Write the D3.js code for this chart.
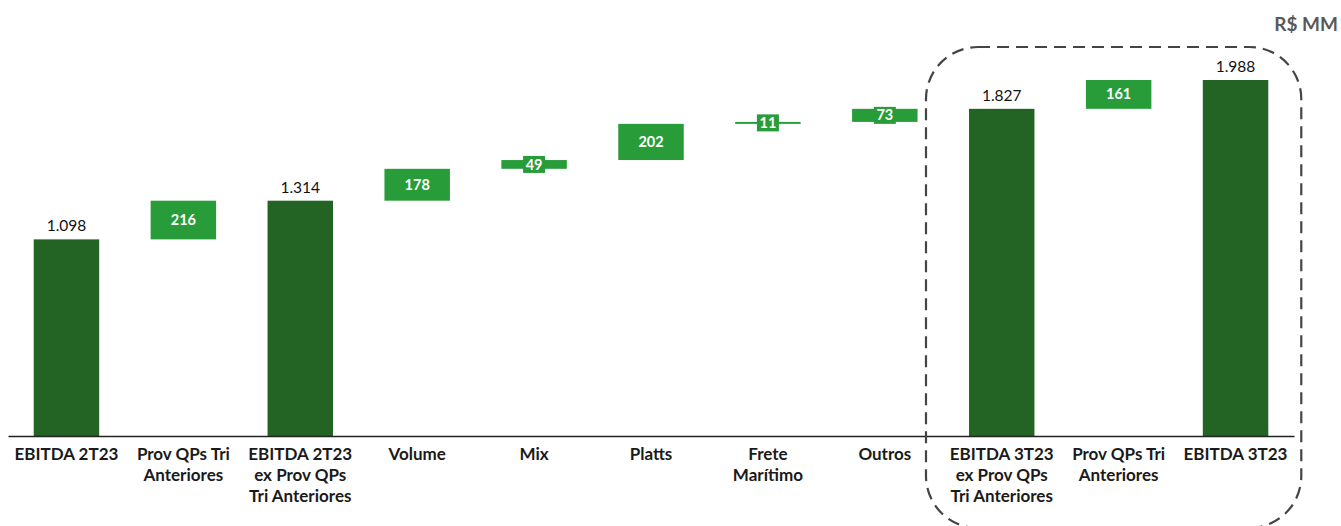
<!DOCTYPE html>
<html>
<head>
<meta charset="utf-8">
<script src="https://cdn.jsdelivr.net/npm/d3@7"></script>
<style>
  body { margin: 0; background: #fff; }
  svg { display: block; font-family: Lato, "Open Sans", sans-serif; }
</style>
</head>
<body>
<svg id="chart" width="1341" height="526"></svg>
<script>
// Bridge of EBITDA, R$ MM
const categories = [
  ["EBITDA 2T23"],
  ["Prov QPs Tri", "Anteriores"],
  ["EBITDA 2T23", "ex Prov QPs", "Tri Anteriores"],
  ["Volume"],
  ["Mix"],
  ["Platts"],
  ["Frete", "Marítimo"],
  ["Outros"],
  ["EBITDA 3T23", "ex Prov QPs", "Tri Anteriores"],
  ["Prov QPs Tri", "Anteriores"],
  ["EBITDA 3T23"]
];
const values = [1098, 216, 1314, 178, 49, 202, 11, 73, 1827, 161, 1988];
const kinds = ["total", "delta", "total", "delta", "delta", "delta", "delta", "delta", "total", "delta", "total"];
const valueLabels = ["1.098", "216", "1.314", "178", "49", "202", "11", "73", "1.827", "161", "1.988"];
const unitLabel = "R$ MM";

const darkGreen = "#236323";
const lightGreen = "#289c38";

const svg = d3.select("#chart");
const baseY = 436;

// Running start/end of each step
let run = 0;
const steps = values.map((v, i) => {
  let s, e;
  if (kinds[i] === "total") { s = 0; e = v; run = v; }
  else { s = run; e = run + v; run = e; }
  return { i, s, e, v, kind: kinds[i], label: valueLabels[i], cat: categories[i] };
});

const x = d3.scaleBand()
  .domain(d3.range(values.length))
  .range([8, 1294])
  .paddingInner(0.44)
  .paddingOuter(0.22);

const y = d3.scaleLinear().domain([0, 1988]).range([baseY, 80]);

// Bars
svg.append("g").selectAll("rect")
  .data(steps)
  .join("rect")
  .attr("x", d => x(d.i))
  .attr("width", x.bandwidth())
  .attr("y", d => y(Math.max(d.s, d.e)))
  .attr("height", d => Math.max(1.5, Math.abs(y(d.s) - y(d.e))))
  .attr("fill", d => d.kind === "total" ? darkGreen : lightGreen);

// Totals: value above the bar
svg.append("g").selectAll("text")
  .data(steps.filter(d => d.kind === "total"))
  .join("text")
  .attr("x", d => x(d.i) + x.bandwidth() / 2)
  .attr("y", d => y(d.e) - 8)
  .attr("text-anchor", "middle")
  .attr("font-size", 15.5)
  .attr("fill", "#111")
  .text(d => d.label);

// Deltas: value centred in the bar, on a small badge of the same colour
const deltaG = svg.append("g").selectAll("g")
  .data(steps.filter(d => d.kind === "delta"))
  .join("g")
  .attr("transform", d => `translate(${x(d.i) + x.bandwidth() / 2},${(y(d.s) + y(d.e)) / 2})`);
deltaG.append("rect")
  .attr("x", d => -(d.label.length * 8 + 6) / 2)
  .attr("width", d => d.label.length * 8 + 6)
  .attr("y", -8.5)
  .attr("height", 17)
  .attr("fill", lightGreen);
deltaG.append("text")
  .attr("text-anchor", "middle")
  .attr("dy", "0.35em")
  .attr("font-size", 14.5)
  .attr("font-weight", "bold")
  .attr("fill", "#fff")
  .text(d => d.label);

// Baseline axis
const axis = d3.axisBottom(x).tickSize(0).tickFormat("");
const axisG = svg.append("g").attr("transform", `translate(0,${baseY})`).call(axis);
axisG.select(".domain").attr("stroke", "#222").attr("stroke-width", 1.3);

// Category labels
svg.append("g").selectAll("text")
  .data(steps)
  .join("text")
  .attr("x", d => x(d.i) + x.bandwidth() / 2)
  .attr("y", 460)
  .attr("text-anchor", "middle")
  .attr("font-size", 17)
  .attr("font-weight", "bold")
  .attr("fill", "#1a1a1a")
  .selectAll("tspan")
  .data(d => d.cat)
  .join("tspan")
  .attr("x", function() { return this.parentNode.getAttribute("x"); })
  .attr("dy", (d, k) => k === 0 ? 0 : 21)
  .text(d => d);

// Dashed frame around the closing group
const fx0 = x(8) - 43, fx1 = x(10) + x.bandwidth() + 33;
svg.append("rect")
  .attr("x", fx0)
  .attr("y", 47)
  .attr("width", fx1 - fx0)
  .attr("height", 481)
  .attr("rx", 52)
  .attr("fill", "none")
  .attr("stroke", "#444")
  .attr("stroke-width", 2.2)
  .attr("stroke-dasharray", "12,7");

// Unit
svg.append("text")
  .attr("x", 1338)
  .attr("y", 31)
  .attr("text-anchor", "end")
  .attr("font-size", 19)
  .attr("font-weight", "bold")
  .attr("fill", "#595959")
  .text(unitLabel);
</script>
</body>
</html>
